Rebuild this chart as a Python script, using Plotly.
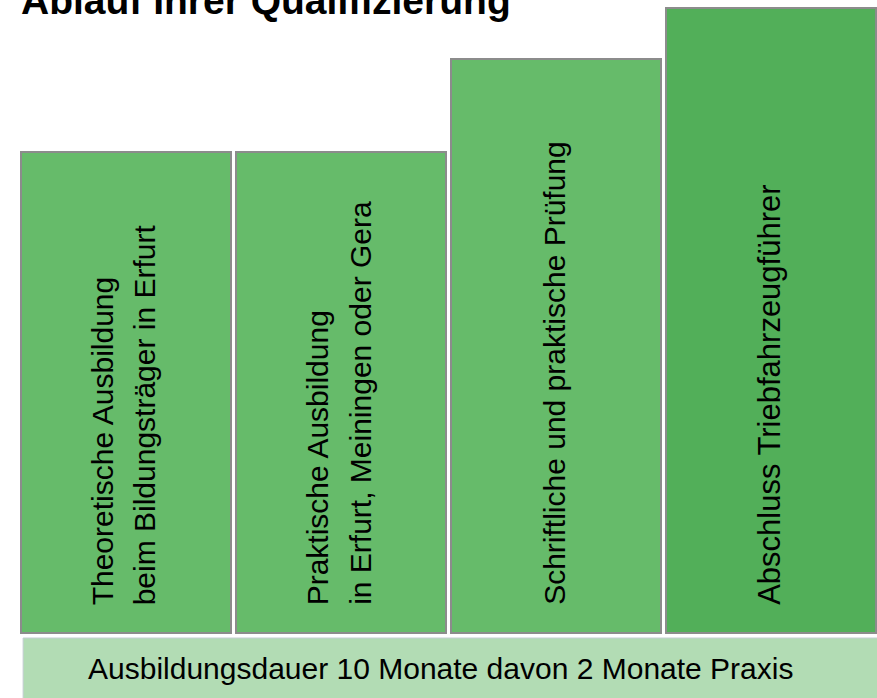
import plotly.graph_objects as go

# --- data ---
titel = "Ablauf Ihrer Qualifizierung"
stufen_zeilen = [
    ["Theoretische Ausbildung", "beim Bildungsträger in Erfurt"],
    ["Praktische Ausbildung", "in Erfurt, Meiningen oder Gera"],
    ["Schriftliche und praktische Prüfung"],
    ["Abschluss Triebfahrzeugführer"],
]
stufen_hoehe = [481, 481, 574, 625]
stufen_farbe = ["#66BB6A", "#66BB6A", "#66BB6A", "#52AF59"]
dauer_text = "Ausbildungsdauer 10 Monate davon 2 Monate Praxis"

FONT = "Liberation Sans, Arial, sans-serif"
TXT_SIZE = 30
stufen_schrift = [30, 30, 30, 31]

x_pos = list(range(len(stufen_zeilen)))
bar_w = 0.977
px_per_unit = 215.0
zeilen_abstand = 42 / px_per_unit   # line pitch in x units

fig = go.Figure()
fig.add_trace(go.Bar(
    x=x_pos, y=stufen_hoehe, width=bar_w,
    marker=dict(color=stufen_farbe, line=dict(color="#8C8C8C", width=2)),
    hoverinfo="skip", showlegend=False,
))

for i, zeilen in enumerate(stufen_zeilen):
    n = len(zeilen)
    for k, zeile in enumerate(zeilen):
        fig.add_annotation(
            x=x_pos[i] + (k - (n - 1) / 2) * zeilen_abstand - 0.01,
            y=26, xref="x", yref="y",
            text=zeile, textangle=-90, showarrow=False,
            xanchor="center", yanchor="bottom",
            font=dict(family=FONT, size=stufen_schrift[i], color="#000000"),
        )

# base band (duration)
fig.add_shape(
    type="rect", xref="x", yref="y",
    x0=x_pos[0] - bar_w / 2 + 0.01, x1=x_pos[-1] + 1,
    y0=-5, y1=-100,
    fillcolor="#B2DCB4", line=dict(color="#C5CDD3", width=1), layer="below",
)
fig.add_annotation(
    x=0.502, xref="paper", y=-35, yref="y",
    text=dauer_text, showarrow=False, xanchor="center", yanchor="middle",
    font=dict(family=FONT, size=TXT_SIZE, color="#000000"),
)

fig.add_annotation(
    x=0.0217, xref="paper", y=1, yref="paper", yshift=-24,
    text="<b>" + titel + "</b>", showarrow=False,
    xanchor="left", yanchor="bottom",
    font=dict(family=FONT, size=39, color="#000000"),
)

fig.update_layout(
    width=877, height=698,
    margin=dict(l=0, r=0, t=0, b=0),
    paper_bgcolor="white", plot_bgcolor="white",
    xaxis=dict(range=[-0.586, 3.493], visible=False, fixedrange=True),
    yaxis=dict(range=[-65, 633], visible=False, fixedrange=True),
    bargap=0,
)

fig.write_html(
    "out.html",
    config={"displayModeBar": False},
    post_script="document.body.style.margin='0px';document.body.style.overflow='hidden';",
)
